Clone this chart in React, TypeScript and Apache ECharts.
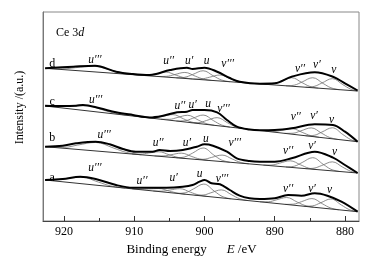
import React, { useEffect, useRef } from 'react';
import * as echarts from 'echarts';

type P = [number, number];
type L = [string, number, number];

const majorTicks = [920, 910, 900, 890, 880];
const minorTicks = [915, 905, 895, 885];

// experimental spectra [binding energy eV, intensity a.u.]
const expD: P[] = [[922.7,152.7],[918.7,154.3],[915.6,155.3],[912.6,149.3],[910.2,147],[907.8,146],[904.9,151],[902.5,153.3],[901.7,152],[900.0,153.3],[898.2,149.3],[896.4,143],[895.0,139.3],[892.1,137.3],[890.0,137.7],[887.6,144.3],[884.3,148.7],[881.7,144.3],[880.0,137.7],[878.2,130.5]];
const expC: P[] = [[922.7,115.3],[920.2,115],[918.3,115.3],[917.3,116],[914.9,112.7],[912.6,108.7],[910.2,106],[907.8,103.6],[905.9,105.3],[903.9,108.7],[902.5,109.3],[901.7,111],[900.0,111],[898.2,108.7],[896.8,101],[895.4,94.3],[893.6,91.5],[892.1,90.8],[890.0,91],[887.6,92.7],[884.3,96.7],[881.7,96],[880.0,89.3],[878.2,79.3]];
const expB: P[] = [[922.7,74.3],[920.2,75.3],[918.3,77.7],[915.5,79.3],[913.5,76.7],[911.6,72],[909.8,69.3],[907.4,69.3],[906.4,71],[904.9,70],[903.1,71],[901.1,74.3],[900.0,76.7],[898.8,75.3],[896.8,69.3],[895.4,62.7],[893.6,60],[892.1,59.3],[890.0,59.3],[887.6,62.7],[884.3,69.3],[881.7,63.3],[880.0,56],[878.2,48]];
const expA: P[] = [[922.7,41],[920.2,42],[917.7,44.3],[915.5,42],[912.6,36],[910.2,33.3],[907.4,33.3],[905.4,33.3],[903.1,34.3],[901.7,36],[900.7,39.3],[900.0,41],[899.0,37.7],[897.8,36.7],[896.4,31],[895.0,25.3],[893.6,22.7],[892.1,22],[890.0,22.7],[888.1,26],[886.2,25.3],[884.3,27.7],[882.5,25.3],[880.5,19.3],[878.2,9.3]];

// linear backgrounds (end points)
const baseD: P[] = [[922.7,152.7],[878.2,130]];
const baseC: P[] = [[922.7,115],[878.2,79.3]];
const baseB: P[] = [[922.7,74.3],[878.2,48]];
const baseA: P[] = [[922.7,41],[878.2,9.3]];

// fitted components: [energy, height above background]
const peaksD: P[][] = [
  [[922.3,0],[920.2,0.7],[918.4,2.8],[915.8,5.5],[913.2,2.8],[911.4,0.7],[909.3,0]],
  [[909.3,0],[908.1,0.7],[907.0,2.5],[905.5,5],[904.0,2.5],[902.9,0.7],[901.7,0]],
  [[906.6,0],[905.4,0.8],[904.3,3],[902.8,6],[901.3,3],[900.2,0.8],[899.0,0]],
  [[904.0,0],[902.8,1.2],[901.7,4.5],[900.2,9],[898.7,4.5],[897.6,1.2],[896.4,0]],
  [[901.6,0],[900.4,0.8],[899.3,3],[897.8,6],[896.3,3],[895.2,0.8],[894.0,0]],
  [[891.4,0],[890.2,1.1],[889.1,4.3],[887.6,8.5],[886.1,4.3],[885.0,1.1],[883.8,0]],
  [[888.4,0],[887.2,1.3],[886.1,5],[884.6,10],[883.1,5],[882.0,1.3],[880.8,0]],
  [[885.6,0],[884.4,1.4],[883.3,5.3],[881.8,10.5],[880.3,5.3],[879.2,1.4],[878.2,0]],
];
const peaksC: P[][] = [
  [[922.7,0],[920.9,0.7],[919.2,2.5],[916.8,5],[914.4,2.5],[912.7,0.7],[910.9,0]],
  [[908.3,0],[907.1,0.8],[906.0,3],[904.5,6],[903.0,3],[901.9,0.8],[900.7,0]],
  [[906.2,0],[905.0,0.9],[903.9,3.5],[902.4,7],[900.9,3.5],[899.8,0.9],[898.6,0]],
  [[904.0,0],[902.8,1.2],[901.7,4.5],[900.2,9],[898.7,4.5],[897.6,1.2],[896.4,0]],
  [[902.0,0],[900.8,1],[899.7,4],[898.2,8],[896.7,4],[895.6,1],[894.4,0]],
  [[891.3,0],[890.1,0.7],[889.0,2.8],[887.5,5.5],[886.0,2.8],[884.9,0.7],[883.7,0]],
  [[888.6,0],[887.4,1.1],[886.3,4.3],[884.8,8.5],[883.3,4.3],[882.2,1.1],[881.0,0]],
  [[885.6,0],[884.4,1.4],[883.3,5.5],[881.8,11],[880.3,5.5],[879.2,1.4],[878.2,0]],
];
const peaksB: P[][] = [
  [[922.0,0],[919.9,1.1],[918.1,4.3],[915.5,8.5],[912.9,4.3],[911.1,1.1],[909.0,0]],
  [[910.3,0],[909.1,0.6],[908.0,2.3],[906.5,4.5],[905.0,2.3],[903.9,0.6],[902.7,0]],
  [[907.1,0],[905.9,0.7],[904.8,2.5],[903.3,5],[901.8,2.5],[900.7,0.7],[899.5,0]],
  [[904.0,0],[902.8,1.6],[901.7,6],[900.2,12],[898.7,6],[897.6,1.6],[896.4,0]],
  [[901.3,0],[900.1,0.8],[899.0,3.3],[897.5,6.5],[896.0,3.3],[894.9,0.8],[893.7,0]],
  [[891.6,0],[890.4,0.8],[889.3,3.3],[887.8,6.5],[886.3,3.3],[885.2,0.8],[884.0,0]],
  [[888.4,0],[887.2,1.5],[886.1,5.8],[884.6,11.5],[883.1,5.8],[882.0,1.5],[880.8,0]],
  [[885.6,0],[884.4,1.2],[883.3,4.5],[881.8,9],[880.3,4.5],[879.2,1.2],[878.2,0]],
];
const peaksA: P[][] = [
  [[922.7,0],[921.6,0.8],[919.9,3.3],[917.5,6.5],[915.1,3.3],[913.4,0.8],[911.3,0]],
  [[910.3,0],[909.1,0.4],[908.0,1.5],[906.5,3],[905.0,1.5],[903.9,0.4],[902.7,0]],
  [[907.3,0],[906.1,0.7],[905.0,2.5],[903.5,5],[902.0,2.5],[900.9,0.7],[899.7,0]],
  [[903.9,0],[902.7,1.6],[901.6,6],[900.1,12],[898.6,6],[897.5,1.6],[896.3,0]],
  [[901.4,0],[900.2,1],[899.1,4],[897.6,8],[896.1,4],[895.0,1],[893.8,0]],
  [[892.1,0],[890.9,0.9],[889.8,3.5],[888.3,7],[886.8,3.5],[885.7,0.9],[884.5,0]],
  [[888.5,0],[887.3,1.1],[886.2,4.3],[884.7,8.5],[883.2,4.3],[882.1,1.1],[880.9,0]],
  [[885.8,0],[884.6,1.3],[883.5,5],[882.0,10],[880.5,5],[879.4,1.3],[878.2,0]],
];

// peak labels [text, energy, intensity]
const labelsD: L[] = [['u′′′',915.6,162],['u′′',905.1,161.5],['u′',902.2,161.5],['u',899.7,161.5],['v′′′',896.7,158],['v′′',886.4,153.5],['v′',884.0,157.5],['v',881.6,152.5]];
const labelsC: L[] = [['u′′′',915.5,122.5],['u′′',903.5,116.5],['u′',901.7,117.5],['u',899.5,118.5],['v′′′',897.3,113.5],['v′′',887.0,105.5],['v′',884.4,106.5],['v',881.9,102]];
const labelsB: L[] = [['u′′′',914.3,87.5],['u′′',906.6,79.5],['u′',902.5,79.5],['u',899.8,83.5],['v′′′',895.7,79.5],['v′′',888.1,71.5],['v′',884.7,76],['v',881.5,70.5]];
const labelsA: L[] = [['u′′′',915.6,54.5],['u′′',908.9,41.5],['u′',904.4,44.5],['u',900.7,48],['v′′′',897.5,43.5],['v′′',888.1,33.5],['v′',884.7,33.5],['v',882.2,32]];
const sampleLabels: L[] = [['d',921.7,158.5],['c',921.7,120.5],['b',921.7,84],['a',921.7,44.5]];

const SERIF = '"Liberation Serif", "Times New Roman", serif';

function baseAt(b: P[], e: number) {
  const [[e0, i0], [e1, i1]] = b;
  return i0 + ((i1 - i0) * (e - e0)) / (e1 - e0);
}

const traces = [
  { exp: expD, base: baseD, peaks: peaksD, labels: labelsD },
  { exp: expC, base: baseC, peaks: peaksC, labels: labelsC },
  { exp: expB, base: baseB, peaks: peaksB, labels: labelsB },
  { exp: expA, base: baseA, peaks: peaksA, labels: labelsA },
];

export default function App() {
  const ref = useRef<HTMLDivElement>(null);
  useEffect(() => {
    if (!ref.current) return;
    const chart = echarts.init(ref.current, null, { renderer: 'svg' });
    const series: any[] = [];
    const labelStyle = (italic: boolean, size: number) => ({
      show: true, position: 'inside', formatter: '{b}', fontFamily: SERIF,
      fontStyle: italic ? 'italic' : 'normal', fontSize: size, color: '#000',
      textBorderWidth: 0, opacity: 1,
    });
    traces.forEach((t) => {
      t.peaks.forEach((pk) => {
        series.push({
          type: 'line', showSymbol: false, smooth: 0.4, silent: true,
          data: pk.map(([e, h]) => [e, baseAt(t.base, e) + h]),
          lineStyle: { color: '#707070', width: 0.8 },
        });
      });
      series.push({
        type: 'line', showSymbol: false, silent: true, data: t.base,
        lineStyle: { color: '#333', width: 1 },
      });
      series.push({
        type: 'line', showSymbol: false, smooth: 0.35, silent: true, data: t.exp, z: 5,
        lineStyle: { color: '#000', width: 2 },
      });
      series.push({
        type: 'scatter', symbolSize: 0.1, silent: true, z: 6, itemStyle: { color: '#000' },
        data: t.labels.map(([s, e, i]) => ({ value: [e, i], name: s })),
        label: labelStyle(true, 11.5),
      });
    });
    series.push({
      type: 'scatter', symbolSize: 0.1, silent: true, z: 6, itemStyle: { color: '#000' },
      data: sampleLabels.map(([s, e, i]) => ({ value: [e, i], name: s })),
      label: labelStyle(false, 12),
    });

    chart.setOption({
      animation: false,
      title: {
        text: '{r|Ce 3}{i|d}', left: 51, top: 21,
        textStyle: {
          fontWeight: 'normal',
          rich: {
            r: { fontFamily: SERIF, fontSize: 12, fontWeight: 'normal', color: '#000' },
            i: { fontFamily: SERIF, fontSize: 12, fontWeight: 'normal', fontStyle: 'italic', color: '#000' },
          },
        },
      },
      grid: { left: 43, right: 17, top: 12, bottom: 40, show: true, borderColor: '#888', borderWidth: 1 },
      xAxis: [
        {
          type: 'value', min: 878, max: 923, inverse: true, position: 'bottom',
          name: '{r|Binding energy}{i|E}{s| /eV}', nameLocation: 'middle', nameGap: 20,
          nameTextStyle: {
            rich: {
              r: { fontFamily: SERIF, fontSize: 13, color: '#000' },
              i: { fontFamily: SERIF, fontSize: 13, fontStyle: 'italic', color: '#000', padding: [0, 0, 0, 20] },
              s: { fontFamily: SERIF, fontSize: 13, color: '#000', padding: [0, 19, 0, 0] },
            },
          },
          axisLine: { show: true, lineStyle: { color: '#444', width: 1 } },
          axisTick: { show: true, inside: true, length: 5, customValues: majorTicks, lineStyle: { color: '#333' } },
          axisLabel: { show: true, customValues: majorTicks, margin: 4, fontFamily: SERIF, fontSize: 12, color: '#000' },
          splitLine: { show: false },
        },
        {
          type: 'value', min: 878, max: 923, inverse: true, position: 'bottom',
          axisLine: { show: false },
          axisTick: { show: true, inside: true, length: 3, customValues: minorTicks, lineStyle: { color: '#333' } },
          axisLabel: { show: false },
          splitLine: { show: false },
        },
      ],
      yAxis: {
        type: 'value', min: 0, max: 209,
        name: 'Intensity /(a.u.)', nameLocation: 'middle', nameGap: 18,
        nameTextStyle: { fontFamily: SERIF, fontSize: 12, color: '#000', padding: [0, 0, 0, 18] },
        axisLine: { show: true, lineStyle: { color: '#777' } },
        axisTick: { show: false },
        axisLabel: { show: false },
        splitLine: { show: false },
      },
      series,
    });
    return () => chart.dispose();
  }, []);
  return <div ref={ref} style={{ position: 'fixed', left: 0, top: 0, width: 376, height: 261 }} />;
}
